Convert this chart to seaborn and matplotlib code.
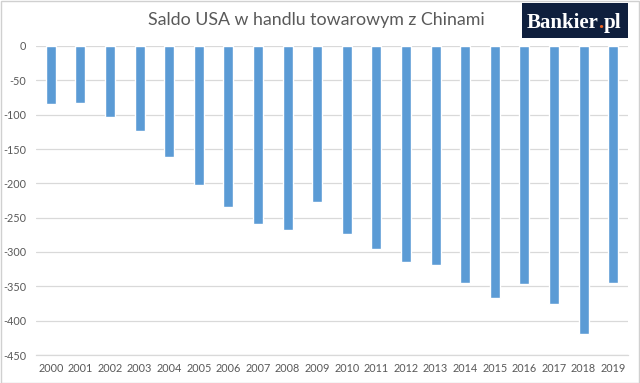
import matplotlib
matplotlib.use("Agg")
import matplotlib.pyplot as plt
import seaborn as sns
import pandas as pd
from matplotlib.patches import Rectangle

years = [str(y) for y in range(2000, 2020)]
saldo = [-83.8, -83.1, -103.1, -124.1, -162.3, -202.3, -234.1, -258.5, -268.0, -226.9,
         -273.1, -295.3, -315.1, -318.7, -344.8, -367.3, -346.8, -375.2, -419.5, -345.2]
yticks = [0, -50, -100, -150, -200, -250, -300, -350, -400, -450]
title = "Saldo USA w handlu towarowym z Chinami"

sns.set_theme(style="white")
plt.rcParams['font.family'] = ['Lato', 'DejaVu Sans']

df = pd.DataFrame({"rok": years, "saldo": saldo})

fig = plt.figure(figsize=(6.4, 3.83), dpi=100)
ax = fig.add_axes([36/640, 1-355/383, (628-36)/640, (355-46)/383])

sns.barplot(data=df, x="rok", y="saldo", color="#5B9BD5", width=0.34,
            saturation=1, ax=ax, zorder=3)

ax.set_ylim(-450, 0)
ax.set_xlim(-0.5, len(years) - 0.5)
ax.set_yticks(yticks)
ax.set_yticklabels([str(v) for v in yticks])
ax.grid(axis="y", color="#d9d9d9", linewidth=0.9, zorder=0)
ax.set_axisbelow(True)
for s in ["top", "right", "left"]:
    ax.spines[s].set_visible(False)
ax.spines["bottom"].set_color("#d9d9d9")
ax.spines["bottom"].set_linewidth(0.9)
ax.set_xlabel("")
ax.set_ylabel("")
ax.tick_params(axis="both", length=0, colors="#595959", labelsize=7.8)
ax.tick_params(axis="y", pad=7)
ax.tick_params(axis="x", pad=6)

fig.text(316/640, 1-20/383, title, ha="center", va="center", fontsize=12.8,
         color="#595959")

# logo
fig.patches.append(Rectangle((522/640, 1-38/383), 106/640, 35/383,
                             transform=fig.transFigure, facecolor="#0f1f3d",
                             edgecolor="none", zorder=5))
lx = 527/640
ly = 1-28/383
kw = dict(fontsize=15, fontweight="bold", family="Liberation Serif",
          va="baseline", ha="left", zorder=6)
W = fig.bbox.width
t1 = fig.text(lx, ly, "Bankier", color="white", **kw)
fig.canvas.draw()
x2 = (t1.get_window_extent().x1 - 1.2) / W
t2 = fig.text(x2, ly, ".", color="#f26522", **kw)
fig.canvas.draw()
x3 = (t2.get_window_extent().x1 + 0.5) / W
fig.text(x3, ly, "pl", color="white", **kw)

# border
fig.patches.append(Rectangle((0.5/640, 0.5/383), 638.5/640, 381.5/383,
                             transform=fig.transFigure, facecolor="none",
                             edgecolor="#d0d0d0", linewidth=1, zorder=10))

fig.savefig("out.png", dpi=100)
